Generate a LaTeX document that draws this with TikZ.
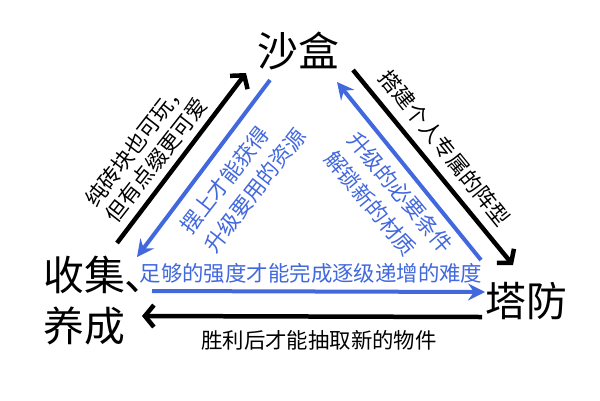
\documentclass[tikz,border=0pt]{standalone}
\usepackage{fontspec}
\setmainfont{Noto Sans CJK SC}
\usetikzlibrary{arrows.meta}
\definecolor{myblue}{RGB}{66,104,222}
\begin{document}
\begin{tikzpicture}[x=1bp,y=-1bp,
  big/.style={font=\fontsize{41}{45}\selectfont, inner sep=0pt},
  small/.style={font=\fontsize{21.5}{26}\selectfont, inner sep=0pt},
  smallwide/.style={font=\fontsize{21.5}{30}\selectfont, inner sep=0pt},
  blk/.style={line width=4.5bp, black, -{Straight Barb[length=9bp,width=22bp]}},
  blu/.style={line width=4bp, myblue, -{Stealth[length=17bp,width=17bp,inset=6bp]}},
]
\fill[white] (0,0) rectangle (600,400);
\useasboundingbox (0,0) rectangle (600,400);

% main labels
\node[big] (sand) at (298,51) {沙盒};
\node[big, anchor=west] (coll) at (43,275) {收集、};
\node[big, anchor=west] (raise) at (43,326) {养成};
\node[big] (td) at (526,301) {塔防};

% arrow end points
\coordinate (a1s) at (117,243); \coordinate (a1e) at (246,73);
\coordinate (b1s) at (270,80);  \coordinate (b1e) at (137,257);
\coordinate (a2s) at (353,70);  \coordinate (a2e) at (513,265);
\coordinate (b2s) at (481,260); \coordinate (b2e) at (337,82);
\coordinate (b3s) at (152,291); \coordinate (b3e) at (485,292);
\coordinate (a3s) at (482,317); \coordinate (a3e) at (142,316);

\draw[blk] (a1s) -- (a1e);
\draw[blu] (b1s) -- (b1e);
\draw[blk] (a2s) -- (a2e);
\draw[blu] (b2s) -- (b2e);
\draw[blu] (b3s) -- (b3e);
\draw[blk] (a3s) -- (a3e);

% edge labels
\node[small, rotate=52, align=center] (t1) at (146,152) {纯砖块也可玩，\\但有点缀更可爱};
\node[smallwide, rotate=52, align=left, text=myblue] (t2) at (243,181) {摆上才能获得\\升级要用的资源};
\node[small, rotate=-51] (t3) at (445,148) {搭建个人专属的阵型};
\node[smallwide, rotate=-50, align=left, text=myblue] (t4) at (389,202) {升级的必要条件\\解锁新的材质};
\node[small, text=myblue] (t5) at (311,273) {足够的强度才能完成逐级递增的难度};
\node[small] (t6) at (319,340) {胜利后才能抽取新的物件};
\end{tikzpicture}
\end{document}
